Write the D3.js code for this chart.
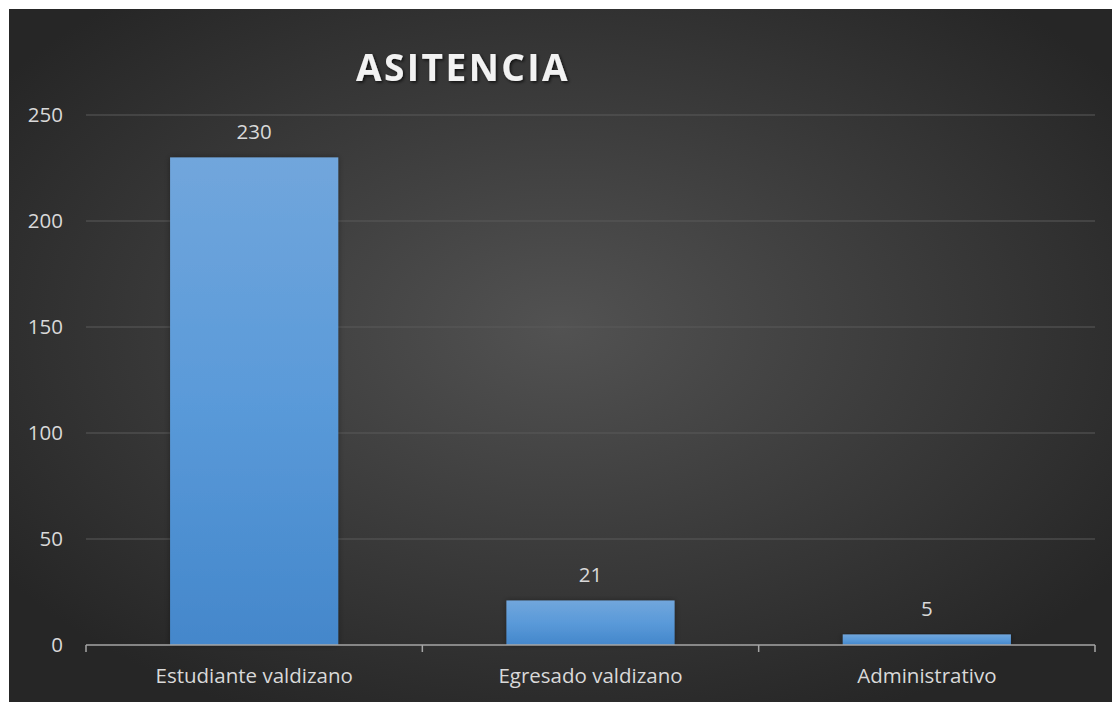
<!DOCTYPE html>
<html>
<head>
<meta charset="utf-8">
<script src="https://cdn.jsdelivr.net/npm/d3@7"></script>
<style>
  html, body { margin: 0; padding: 0; background: #fff; }
  svg { display: block; }
  text { font-family: "Open Sans", "Noto Sans", sans-serif; }
</style>
</head>
<body>
<svg id="chart" width="1117" height="702"></svg>
<script>
// data
const categories = ['Estudiante valdizano', 'Egresado valdizano', 'Administrativo']
const values = [230, 21, 5]
const yTicks = [0, 50, 100, 150, 200, 250]
const title = 'ASITENCIA'

const W = 1117
const H = 702
const margin = {left: 86, right: 22, top: 115, bottom: 57}
const fs = 20.5

const svg = d3.select('#chart')
const defs = svg.append('defs')

// dark background, lighter towards the middle
const bg = defs.append('radialGradient')
  .attr('id', 'bg')
  .attr('cx', '50%').attr('cy', '46%').attr('r', '62%')
bg.append('stop').attr('offset', '0%').attr('stop-color', '#525252')
bg.append('stop').attr('offset', '100%').attr('stop-color', '#262626')

const barGrad = defs.append('linearGradient')
  .attr('id', 'bar')
  .attr('x1', 0).attr('y1', 0).attr('x2', 0).attr('y2', 1)
barGrad.append('stop').attr('offset', '0%').attr('stop-color', '#71a6dc')
barGrad.append('stop').attr('offset', '50%').attr('stop-color', '#5a9ad9')
barGrad.append('stop').attr('offset', '100%').attr('stop-color', '#4487cb')

const shadow = defs.append('filter').attr('id', 'shadow')
  .attr('x', '-20%').attr('y', '-20%').attr('width', '140%').attr('height', '140%')
shadow.append('feDropShadow')
  .attr('dx', 1.5).attr('dy', 1.5).attr('stdDeviation', 1.5)
  .attr('flood-color', '#000').attr('flood-opacity', 0.7)

const barShadow = defs.append('filter').attr('id', 'barshadow')
  .attr('x', '-10%').attr('y', '-10%').attr('width', '120%').attr('height', '120%')
barShadow.append('feDropShadow')
  .attr('dx', 0).attr('dy', 0).attr('stdDeviation', 3)
  .attr('flood-color', '#000').attr('flood-opacity', 0.35)

svg.append('rect')
  .attr('x', 9).attr('y', 9)
  .attr('width', 1103).attr('height', 693)
  .attr('fill', 'url(#bg)')

// --- scales
const x = d3.scaleBand()
  .domain(categories)
  .range([margin.left, W - margin.right])
  .paddingInner(0.5)
  .paddingOuter(0.25)

const y = d3.scaleLinear()
  .domain([0, 250])
  .range([H - margin.bottom, margin.top])

// gridlines
svg.append('g')
  .selectAll('line')
  .data(yTicks.filter(d => d > 0))
  .join('line')
  .attr('x1', margin.left)
  .attr('x2', W - margin.right)
  .attr('y1', d => y(d))
  .attr('y2', d => y(d))
  .attr('stroke', '#5a5a5a')
  .attr('stroke-width', 1)

// y tick labels
svg.append('g')
  .selectAll('text')
  .data(yTicks)
  .join('text')
  .attr('x', 63)
  .attr('y', d => y(d))
  .attr('dy', '0.35em')
  .attr('text-anchor', 'end')
  .attr('fill', '#d9d9d9')
  .attr('font-size', fs)
  .text(d => d)

// bars
svg.append('g')
  .selectAll('rect')
  .data(values)
  .join('rect')
  .attr('x', (d, i) => x(categories[i]))
  .attr('y', d => y(d))
  .attr('width', x.bandwidth())
  .attr('height', d => y(0) - y(d))
  .attr('fill', 'url(#bar)')
  .attr('filter', 'url(#barshadow)')

// value labels
svg.append('g')
  .selectAll('text')
  .data(values)
  .join('text')
  .attr('x', (d, i) => x(categories[i]) + x.bandwidth() / 2)
  .attr('y', d => y(d) - 18)
  .attr('text-anchor', 'middle')
  .attr('fill', '#d9d9d9')
  .attr('font-size', fs)
  .text(d => d)

// category axis
const xAxis = d3.axisBottom(x)
  .tickSize(0)
  .tickFormat(d => d)
const gx = svg.append('g')
  .attr('transform', `translate(0,${y(0)})`)
  .call(xAxis)
gx.select('.domain').remove()
gx.selectAll('text')
  .attr('fill', '#d9d9d9')
  .attr('font-size', fs)
  .attr('font-family', '"Open Sans", sans-serif')
  .attr('dy', 0)
  .attr('y', 38)

// axis line with tick marks at the band edges
const edges = [margin.left].concat(categories.map(c => x(c) + x.bandwidth() + x.step() * 0.25))
svg.append('line')
  .attr('x1', margin.left).attr('x2', W - margin.right)
  .attr('y1', y(0)).attr('y2', y(0))
  .attr('stroke', '#a6a6a6').attr('stroke-width', 1.5)
svg.append('g')
  .selectAll('line')
  .data(edges)
  .join('line')
  .attr('x1', d => d).attr('x2', d => d)
  .attr('y1', y(0)).attr('y2', y(0) + 7)
  .attr('stroke', '#a6a6a6').attr('stroke-width', 1.5)

// title
svg.append('text')
  .attr('x', 463)
  .attr('y', 81)
  .attr('text-anchor', 'middle')
  .attr('fill', '#f2f2f2')
  .attr('font-size', 37)
  .attr('font-weight', 'bold')
  .attr('letter-spacing', 2.5)
  .attr('filter', 'url(#shadow)')
  .text(title)
</script>
</body>
</html>
